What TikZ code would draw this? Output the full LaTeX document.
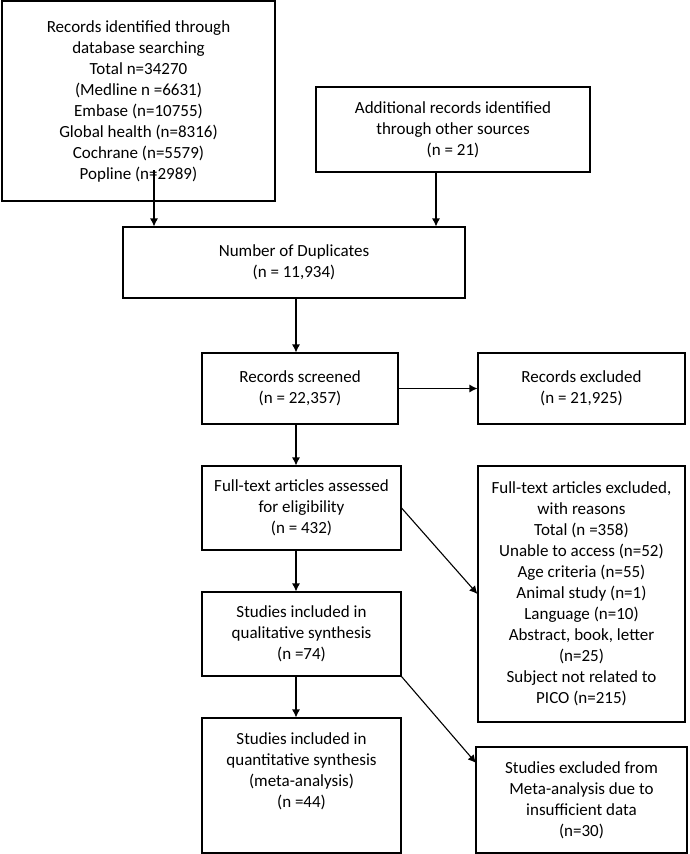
\documentclass[tikz,border=0pt]{standalone}
\usepackage{fontspec}
\setmainfont{Carlito}
\usetikzlibrary{arrows.meta}

\begin{document}
\begin{tikzpicture}[>={Latex[length=8pt,width=8pt]}, x=1pt, y=-1pt,
        box/.style={draw, line width=1.1pt, align=center, inner sep=0pt,
            font=\fontsize{17}{21}\selectfont},
        arr/.style={->, line width=1.1pt}]
        \useasboundingbox (0,0) rectangle (689,854);
        % identification
        \node[box, minimum width=273pt, minimum height=200pt] (search) at (138.5,101)
            {Records identified through\\database searching\\Total n=34270\\(Medline n =6631)\\Embase (n=10755)\\Global health (n=8316)\\Cochrane (n=5579)\\Popline (n=2989)};
        \node[box, minimum width=274pt, minimum height=85pt] (other) at (453,129.5)
            {Additional records identified\\through other sources\\(n = 21)};
        \node[box, minimum width=342pt, minimum height=71pt] (dup) at (294,262.5)
            {Number of Duplicates\\(n = 11,934)};
        % screening
        \node[box, minimum width=196pt, minimum height=71pt] (screen) at (300,388.5)
            {Records screened\\(n = 22,357)};
        \node[box, minimum width=207pt, minimum height=71pt] (excl) at (581.5,388.5)
            {Records excluded\\(n = 21,925)};
        % eligibility
        \node[box, minimum width=199pt, minimum height=84pt] (full) at (301.5,508)
            {Full-text articles assessed\\for eligibility\\(n = 432)};
        \node[box, minimum width=207pt, minimum height=256pt] (reason) at (581.5,594)
            {Full-text articles excluded,\\with reasons\\Total (n =358)\\Unable to access (n=52)\\Age criteria (n=55)\\Animal study (n=1)\\Language (n=10)\\Abstract, book, letter\\(n=25)\\Subject not related to\\PICO (n=215)};
        % included
        \node[box, minimum width=199pt, minimum height=84pt] (qual) at (301.5,634)
            {Studies included in\\qualitative synthesis\\(n =74)};
        \node[box, minimum width=199pt, minimum height=135pt, text depth=30pt] (quant) at (301.5,785.5)
            {Studies included in\\quantitative synthesis\\(meta-analysis)\\(n =44)};
        \node[box, minimum width=211pt, minimum height=106pt] (meta) at (581.5,800)
            {Studies excluded from\\Meta-analysis due to\\insufficient data\\(n=30)};

        \coordinate (s1) at (154,170);
        \coordinate (m1) at (476,763);
        \draw[arr] (s1) -- (s1 |- dup.north);
        \draw[arr] (other.south -| 436,0) -- (dup.north -| 436,0);
        \draw[arr] (dup.south -| 296,0) -- (screen.north -| 296,0);
        \draw[arr] (screen.east) -- (excl.west);
        \draw[arr] (screen.south -| 296,0) -- (full.north -| 296,0);
        \draw[arr] (full.east) -- (reason.west);
        \draw[arr] (full.south -| 296,0) -- (qual.north -| 296,0);
        \draw[arr] (qual.south -| 296,0) -- (quant.north -| 296,0);
        \draw[arr] (qual.south east) -- (m1);
    \end{tikzpicture}
\end{document}
